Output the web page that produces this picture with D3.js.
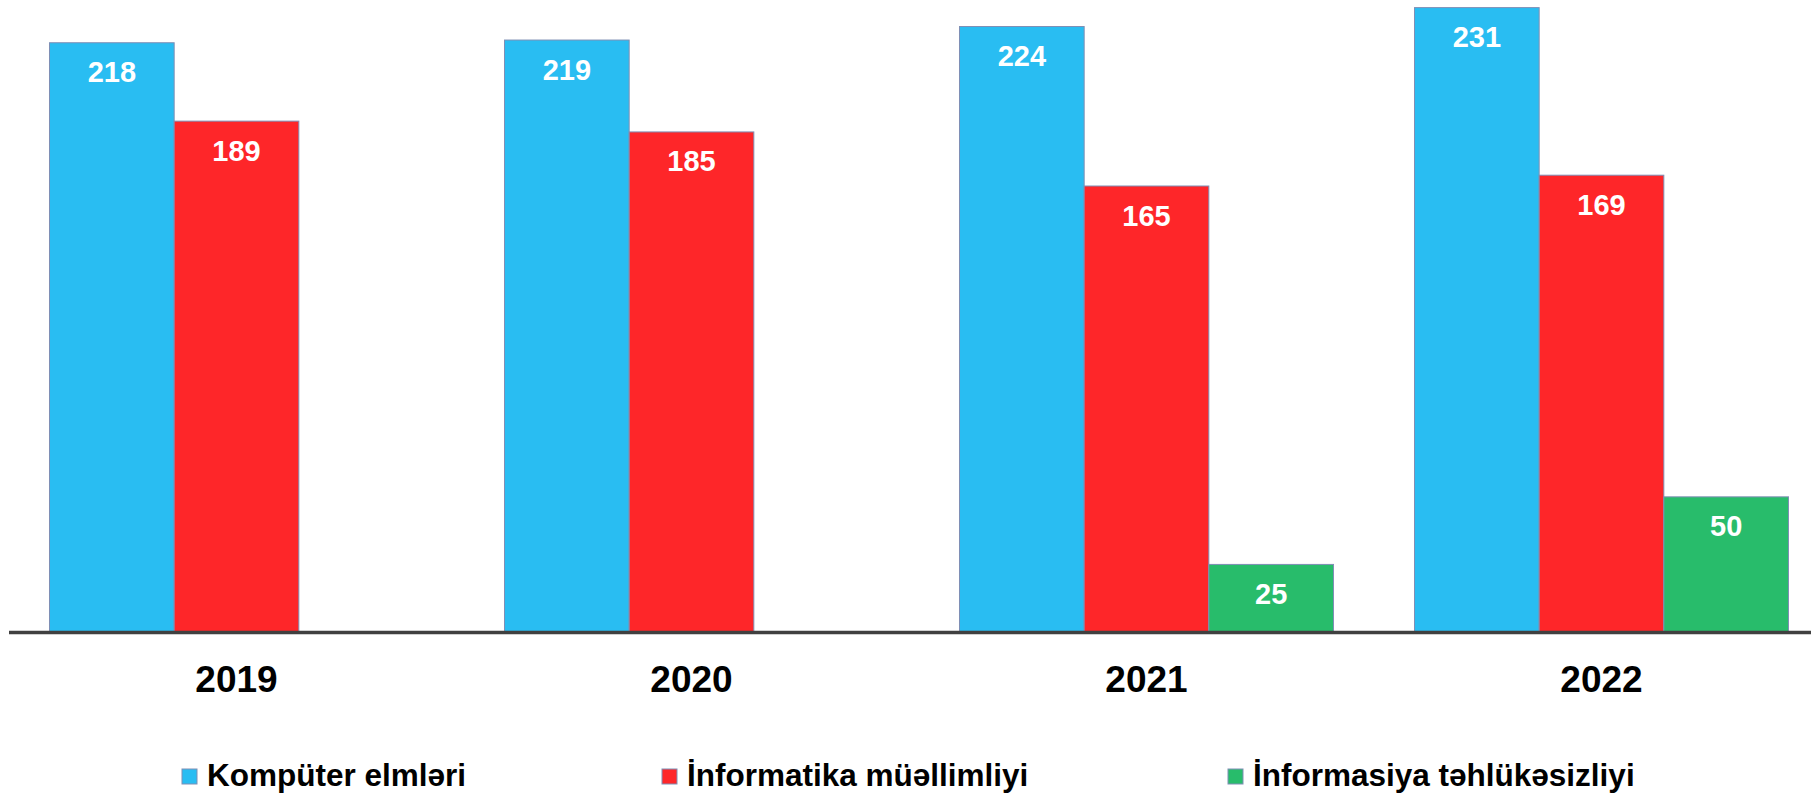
<!DOCTYPE html>
<html>
<head>
<meta charset="utf-8">
<script src="https://cdn.jsdelivr.net/npm/d3@7"></script>
<style>
  html, body { margin: 0; padding: 0; background: #fff; }
  svg { display: block; font-family: "Liberation Sans", Arial, sans-serif; }
</style>
</head>
<body>
<svg id="chart" width="1811" height="799"></svg>
<script>
const years = ['2019', '2020', '2021', '2022'];
const seriesNames = ['Kompüter elmləri', 'İnformatika müəllimliyi', 'İnformasiya təhlükəsizliyi'];
const computerScience = [218, 219, 224, 231];
const informaticsTeaching = [189, 185, 165, 169];
const infoSecurity = [null, null, 25, 50];
const seriesColors = ['#29bdf2', '#fe2629', '#28bc6b'];

const seriesValues = [computerScience, informaticsTeaching, infoSecurity];

const svg = d3.select('#chart');
const baseY = 632;

const x = d3.scaleBand()
  .domain(years)
  .range([9, 1829])
  .paddingInner(0.178)
  .paddingOuter(0.089);

const xSeries = d3.scaleBand()
  .domain(d3.range(seriesNames.length))
  .range([0, x.bandwidth()]);

const y = d3.scaleLinear()
  .domain([0, 231])
  .range([baseY, 7.6]);

// flatten into bar records, skipping missing values
const bars = [];
years.forEach((yr, i) => {
  seriesValues.forEach((vals, s) => {
    if (vals[i] !== null) bars.push({ year: yr, s, value: vals[i] });
  });
});

const barGroup = svg.append('g');
barGroup.selectAll('rect')
  .data(bars)
  .enter()
  .append('rect')
  .attr('x', d => x(d.year) + xSeries(d.s))
  .attr('y', d => y(d.value))
  .attr('width', xSeries.bandwidth())
  .attr('height', d => baseY - y(d.value))
  .attr('fill', d => seriesColors[d.s])
  .attr('stroke', '#7f8fb5')
  .attr('stroke-width', 1);

barGroup.selectAll('text')
  .data(bars)
  .enter()
  .append('text')
  .attr('x', d => x(d.year) + xSeries(d.s) + xSeries.bandwidth() / 2)
  .attr('y', d => y(d.value) + 39.5)
  .attr('text-anchor', 'middle')
  .attr('fill', '#fff')
  .attr('font-weight', 'bold')
  .attr('font-size', 29)
  .text(d => d.value);

// baseline axis
const axis = svg.append('g')
  .attr('transform', `translate(0, ${baseY})`)
  .call(d3.axisBottom(x).tickSize(0).tickPadding(0));
axis.select('.domain')
  .attr('d', `M9,0.5H1811`)
  .attr('stroke', '#404040')
  .attr('stroke-width', 3.5);
axis.selectAll('.tick text')
  .attr('y', 60)
  .attr('dy', 0)
  .attr('fill', '#000')
  .attr('font-family', '"Liberation Sans", Arial, sans-serif')
  .attr('font-weight', 'bold')
  .attr('font-size', 37);

// legend
const legendX = [182, 662, 1228];
const legend = svg.append('g')
  .attr('transform', 'translate(0, 769)');
const item = legend.selectAll('g')
  .data(seriesNames)
  .enter()
  .append('g')
  .attr('transform', (d, i) => `translate(${legendX[i]}, 0)`);
item.append('rect')
  .attr('width', 15)
  .attr('height', 15)
  .attr('fill', (d, i) => seriesColors[i])
  .attr('stroke', '#7f8fb5')
  .attr('stroke-width', 1);
item.append('text')
  .attr('x', 25)
  .attr('y', 17)
  .attr('fill', '#000')
  .attr('font-weight', 'bold')
  .attr('font-size', 31.5)
  .text(d => d);
</script>
</body>
</html>
